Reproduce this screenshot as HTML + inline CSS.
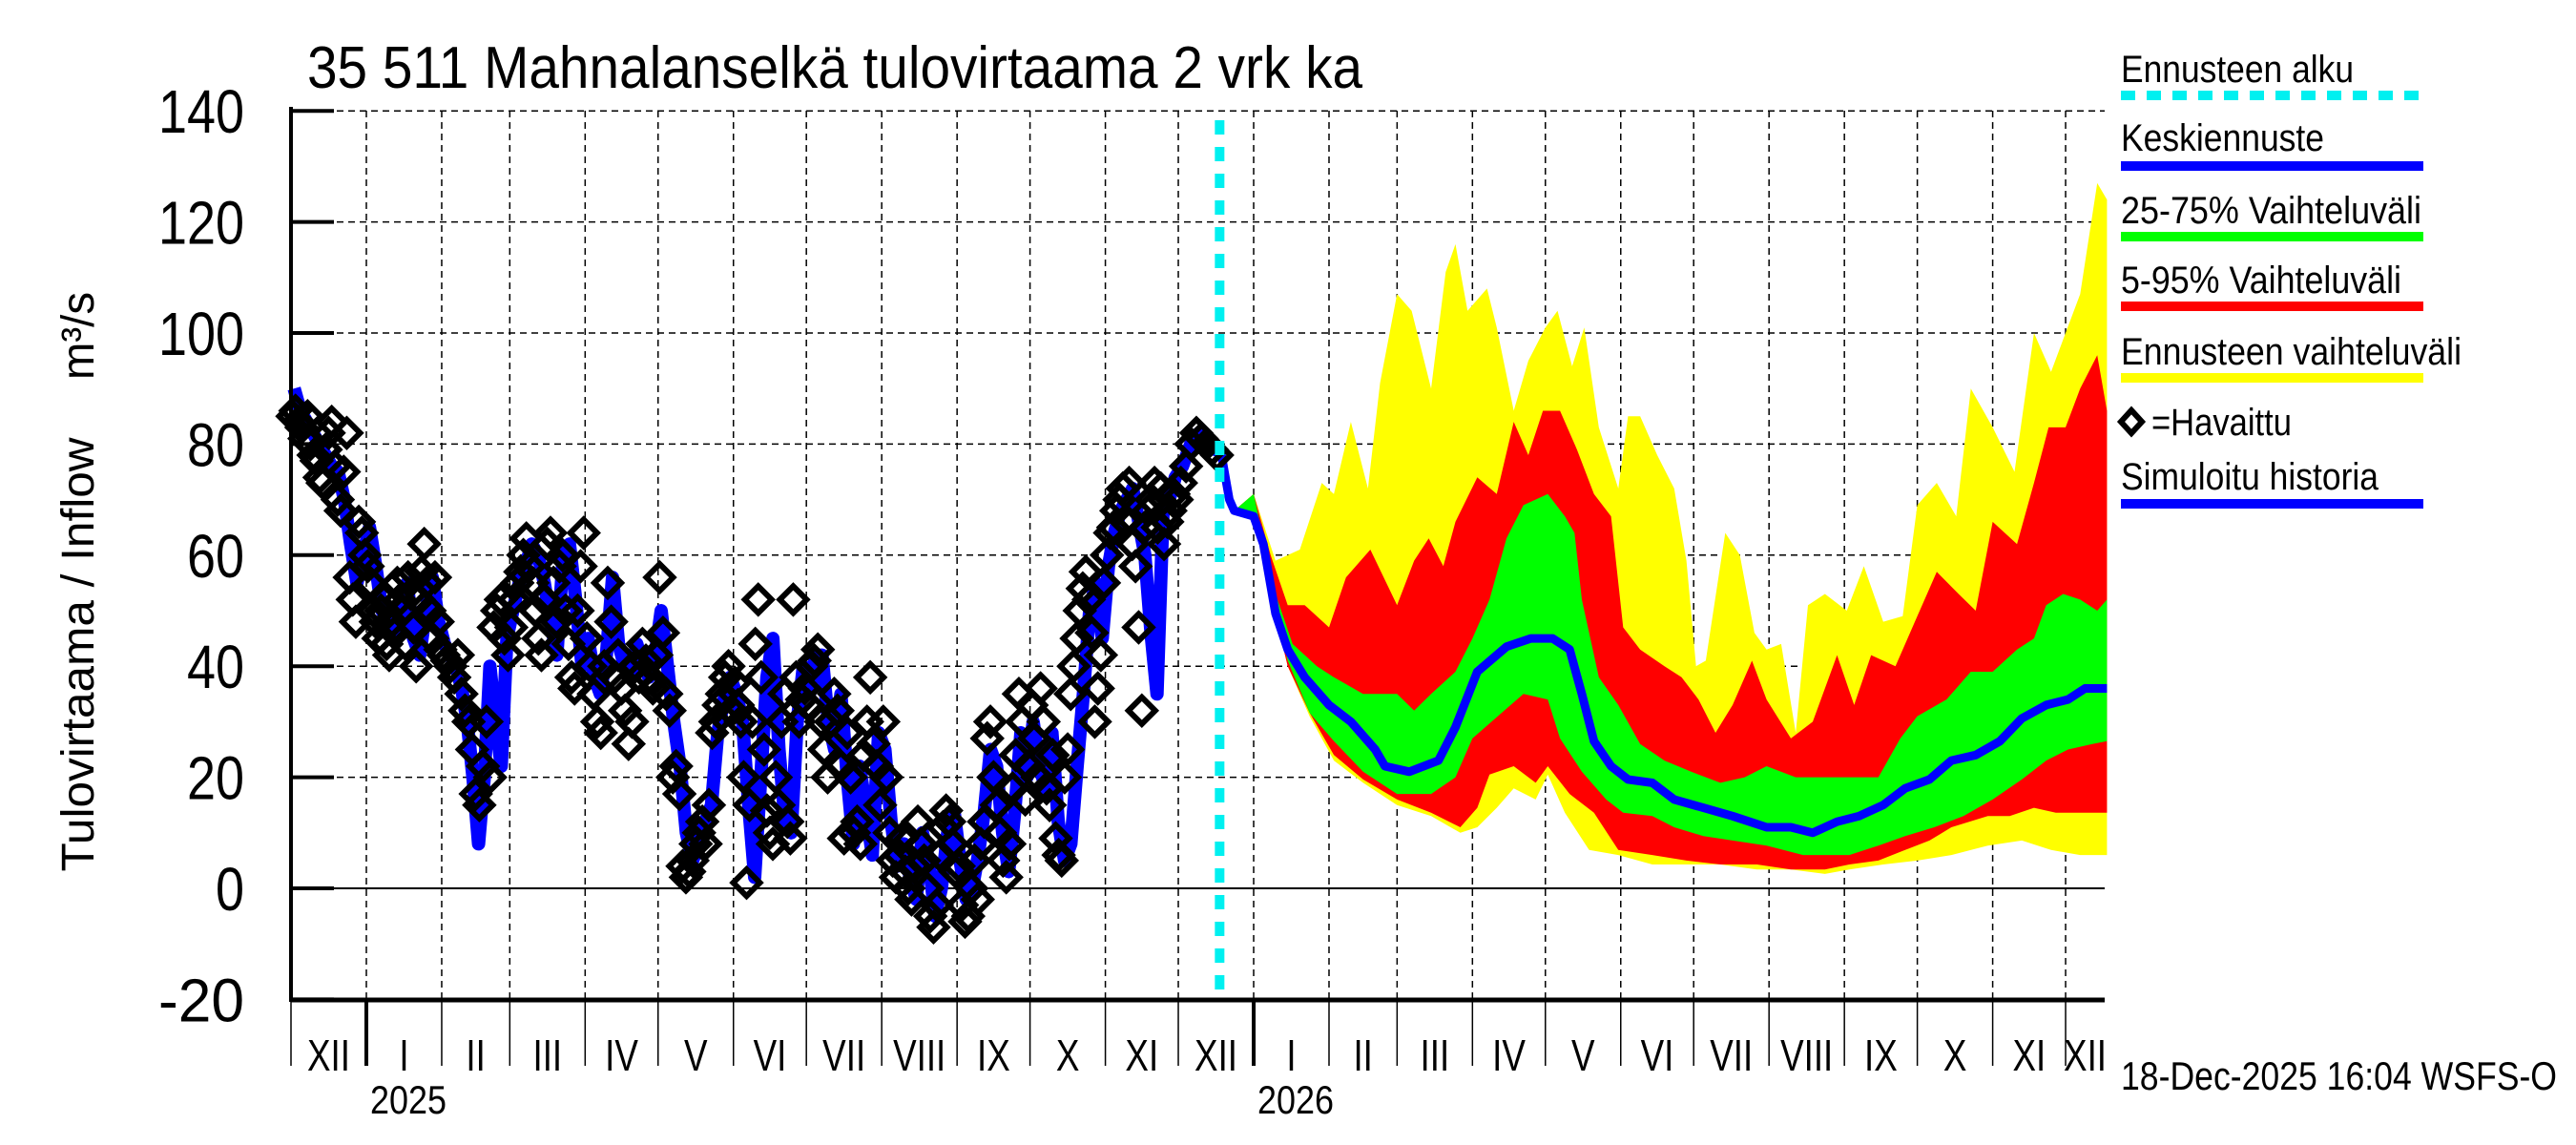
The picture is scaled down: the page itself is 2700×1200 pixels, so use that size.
<!DOCTYPE html>
<html><head><meta charset="utf-8"><style>
html,body{margin:0;padding:0;background:#fff;}
svg{display:block;font-family:"Liberation Sans",sans-serif;}
</style></head><body>
<svg id="chart" width="2700" height="1200" viewBox="0 0 2700 1200" xmlns="http://www.w3.org/2000/svg">
<text x="322" y="92" font-size="62" textLength="1106" lengthAdjust="spacingAndGlyphs">35 511 Mahnalanselkä tulovirtaama 2 vrk ka</text>
<g id="grid"></g>
<g id="bands"></g>
<g id="hist"></g>
<g id="axes"></g>
<text transform="translate(98,686) rotate(-90)" text-anchor="middle" font-size="48" textLength="455" lengthAdjust="spacingAndGlyphs">Tulovirtaama / Inflow</text>
<text transform="translate(98,352) rotate(-90)" text-anchor="middle" font-size="48" textLength="92" lengthAdjust="spacingAndGlyphs">m³/s</text>
<g id="legend">
 <text x="2223" y="86" font-size="40" textLength="244" lengthAdjust="spacingAndGlyphs">Ennusteen alku</text>
 <line x1="2223" y1="100" x2="2540" y2="100" stroke="#00f0f0" stroke-width="10" stroke-dasharray="15,12"/>
 <text x="2223" y="158" font-size="40" textLength="213" lengthAdjust="spacingAndGlyphs">Keskiennuste</text>
 <line x1="2223" y1="174" x2="2540" y2="174" stroke="#0000ff" stroke-width="10"/>
 <text x="2223" y="234" font-size="40" textLength="315" lengthAdjust="spacingAndGlyphs">25-75% Vaihteluväli</text>
 <line x1="2223" y1="248" x2="2540" y2="248" stroke="#00ff00" stroke-width="10"/>
 <text x="2223" y="307" font-size="40" textLength="294" lengthAdjust="spacingAndGlyphs">5-95% Vaihteluväli</text>
 <line x1="2223" y1="321" x2="2540" y2="321" stroke="#ff0000" stroke-width="10"/>
 <text x="2223" y="382" font-size="40" textLength="357" lengthAdjust="spacingAndGlyphs">Ennusteen vaihteluväli</text>
 <line x1="2223" y1="396" x2="2540" y2="396" stroke="#ffff00" stroke-width="10"/>
 <path d="M2223,442 L2234,430 L2245,442 L2234,454 Z" fill="none" stroke="#000" stroke-width="6"/>
 <text x="2255" y="456" font-size="40" textLength="147" lengthAdjust="spacingAndGlyphs">=Havaittu</text>
 <text x="2223" y="513" font-size="40" textLength="270" lengthAdjust="spacingAndGlyphs">Simuloitu historia</text>
 <line x1="2223" y1="528" x2="2540" y2="528" stroke="#0000ff" stroke-width="10"/>
</g>
<text x="2223" y="1142" font-size="42" textLength="457" lengthAdjust="spacingAndGlyphs">18-Dec-2025 16:04 WSFS-O</text>
</svg>
<script>
// ---- data ----
const yTicks = [-20,0,20,40,60,80,100,120,140];
const monthLabels = ["XII","I","II","III","IV","V","VI","VII","VIII","IX","X","XI","XII","I","II","III","IV","V","VI","VII","VIII","IX","X","XI","XII"];
const yearLabels = ["2025","2026"];
const forecastStartDay = 382;
// observed per month (Dec 2024 .. Dec 2025)
const obsDec24 = [85,86,84,83,81,85,80,78,77,74,73,79,82,84,76,70,68,75,82,56,52,48,66,64,60];
const obsJan25 = [58,55,50,48,45,50,52,44,42,48,46,55,52,50,44,56,53,47,40,52,57,62,55,50,45,56,48,43];
const obsFeb25 = [42,41,40,38,42,35,32,30,25,17,15,22,30,20,47,50,52,45,42];
const obsMar25 = [47,52,55,57,60,63,58,55,50,45,42,52,62,64,55,48,58,60,50,44,38,36,50,58,64];
const obsApr25 = [45,40,35,30,28,40,55,48,38,42,36,32,26,30,40,38,44,41,38,36,42];
const obsMay25 = [56,46,35,32,20,22,17,4,2,3,5,8,10,12,8,15,28,30,33,35,38,40,32];
const obsJun25 = [37,33,30,20,1,15,30,44,52,38,25,14,10,8,20,15,30,35,12,9,52,38,30,34,36];
const obsJul25 = [33,40,41,43,30,25,20,30,35,32,22,9,28,20,10,12,8,24,30,38,26,22,15];
const obsAug25 = [30,20,10,5,2,6,9,3,0,-2,4,12,8,5,0,-5,-7,-3,6,11,14,12,8,3];
const obsSep25 = [4,-3,-6,-5,0,5,-2,8,12,27,30,20,15,10,5,2,8,18,24,35,30,16,22];
const obsOct25 = [33,27,20,36,30,18,15,24,9,6,5,20,25,35,40,45,50,54,57,52,46,30,36,42,55];
const obsNov25 = [60,64,65,68,70,72,66,73,62,58,47,32,65,68,70,73,65,72,62,66,68,71,70];
const obsDec25 = [73,76,80,82,81,80,79,78];
// simulated history per month
const simDec24 = [90,86,84,82,80,78,76,75,70,62,55,60];
const simJan25 = [65,58,50,48,45,52,55,45,42,50,56,48];
const simFeb25 = [44,42,40,36,30,20,8,20,40,30,22,45];
const simMar25 = [50,55,58,62,60,55,48,42,60,62,52,40];
const simApr25 = [45,38,35,42,56,44,40,38,44,40,38,42];
const simMay25 = [50,40,30,22,10,5,8,12,15,28,34,38];
const simJun25 = [35,30,15,2,20,38,45,25,12,10,30,40];
const simJul25 = [35,42,42,30,25,35,20,8,22,14,6,28];
const simAug25 = [25,12,4,8,2,-2,10,5,-5,0,10,14];
const simSep25 = [5,-2,0,6,14,25,22,10,3,14,28,20];
const simOct25 = [30,22,18,28,12,5,8,22,35,50,55,45];
const simNov25 = [58,64,68,70,72,66,60,46,35,68,70,74];
const simDec25 = [76,80,82,80,79];
// forecast (day offsets from forecast start)
const maxDays = [6,14,23,33,42,47,54,61,66,73,79,87,93,97,102,110,114,121,127,134,139,145,150,156,164,168,173,180,187,192,196,200,208,214,220,225,231,237,242,249,258,265,273,281,287,295,303,309,318,327,335,342,348,354,361,365];
const maxVals = [68,71,59,61,73,71,84,72,91,107,104,90,111,116,104,108,101,86,95,101,104,94,101,83,72,85,85,78,72,59,40,41,64,60,46,43,44,28,51,53,50,58,48,49,69,73,67,90,83,75,100,93,100,107,127,124];
const p95Days = [6,14,21,28,35,45,52,62,73,80,86,92,97,106,114,121,127,133,140,147,154,161,166,173,183,190,197,204,211,219,225,235,244,254,261,268,278,287,295,304,311,318,328,335,341,348,354,361,365];
const p95Vals = [68,71,60,51,51,47,56,61,51,59,63,58,66,74,71,84,78,86,86,79,71,67,47,43,40,38,34,28,33,41,34,27,30,42,33,42,40,49,57,53,50,66,62,73,83,83,90,96,86];
const p75Days = [6,14,23,30,40,47,59,73,80,87,97,104,111,118,125,135,142,146,149,156,164,173,183,194,206,216,225,237,249,259,271,280,287,299,309,318,328,335,340,347,354,361,365];
const p75Vals = [68,71,53,44,40,38,35,35,32,35,39,45,52,63,69,71,67,64,52,38,33,26,23,21,19,20,22,20,20,20,20,27,31,34,39,39,43,45,51,53,52,50,52];
const medDays = [0,4,6,14,18,23,28,35,45,54,64,68,78,90,97,106,118,128,137,144,149,154,161,168,178,187,199,211,225,235,244,254,263,273,282,292,301,311,321,330,340,349,356,365];
const medVals = [80,70,68,67,62,49.5,43,38,33,30,25,22,21,23,29,39,43.5,45,45,43,35,26.5,22,19.6,19,16,14.5,13,11,11,10,12,13,15,18,19.6,23,24,26.5,30.6,33,34,36,36];
const p25Days = [6,14,23,28,37,47,59,73,87,97,104,116,125,135,140,149,159,166,178,187,199,211,225,240,249,259,271,282,294,306,318,330,340,349,359,365];
const p25Vals = [68,67,49,41,31.6,26.5,21,17,17,20,27,31.6,35,34,27,21,16,13.6,13,11,9.4,8.6,7.7,6,6,6,7.7,9.4,11,13,16,19.6,23,25,26,26.5];
const p5Days = [6,14,23,28,37,47,59,73,87,99,106,111,121,130,135,144,154,164,178,192,206,221,235,249,259,271,282,292,301,316,325,335,344,354,365];
const p5Vals = [68,67,49,40,31.6,24,19.6,16,13.6,11,14.5,20.5,22,19,22,17,13.6,6.9,6,5,4.3,4.3,3.4,3.4,4.3,5,6.9,8.6,11,13,13,14.5,13.6,13.6,13.6];
const minDays = [6,14,28,37,47,59,73,87,99,106,114,121,130,135,142,152,164,178,192,206,221,235,249,259,273,287,301,316,330,342,354,365];
const minVals = [68,67,40,31,23,19,15,13,10,11,14.5,18,16,20.5,13.6,6.9,6,4.3,4.3,4.3,3.4,3.4,2.6,3.4,4.3,5,6,7.7,8.6,6.9,6,6];

// ---- scales ----
const NS = "http://www.w3.org/2000/svg";
const X0 = 305, X1 = 2206, PXD = 2.548, Y0 = 931, PXV = 5.82, YTOP = 116, YBOT = 1048;
const t0 = Date.UTC(2024,11,1);
function xDay(d){ return X0 + d*PXD; }
function yVal(v){ return Y0 - v*PXV; }
function el(tag, attrs, parent){ const e=document.createElementNS(NS,tag); for(const k in attrs) e.setAttribute(k,attrs[k]); parent.appendChild(e); return e; }
function dayOf(y,m,d){ return (Date.UTC(y,m,d)-t0)/86400000; }

const grid = document.getElementById('grid'), axes = document.getElementById('axes');
const monthStarts = [];
for(let i=0;i<26;i++){ const y=2024+Math.floor((11+i)/12), m=(11+i)%12; monthStarts.push(dayOf(y,m,1)); }
for(let i=1;i<monthStarts.length;i++){
  const x = xDay(monthStarts[i]); if (x > X1) break;
  const g = el('line',{x1:x,y1:YTOP,x2:x,y2:YBOT,stroke:'#000','stroke-width':1.5,'stroke-dasharray':'7,5'},grid);
  
  
}
yTicks.forEach(v=>{
  const y=yVal(v);
  const g=el('line',{x1:X0,y1:y,x2:X1,y2:y,stroke:'#000','stroke-width':v===0?2:1.5,'stroke-dasharray':v===0?'none':'7,5'},grid);
  
  
  const tk=el('line',{x1:X0,y1:y,x2:X0+45,y2:y,stroke:'#000','stroke-width':4},axes);
  
  
  const s=String(v);
  const tl=el('text',{x:256,y:y+23,'font-size':64,'text-anchor':'end',textLength:s.length*30,lengthAdjust:'spacingAndGlyphs'},axes); tl.textContent=s;
  
  
});
el('line',{x1:X0,y1:YTOP-4,x2:X0,y2:YBOT+2,stroke:'#000','stroke-width':4},axes);
el('line',{x1:X0,y1:YBOT,x2:X1,y2:YBOT,stroke:'#000','stroke-width':5},axes);
for(let i=0;i<monthStarts.length-1;i++){
  const xa=xDay(monthStarts[i]); if(xa>X1) break;
  const xb=Math.min(xDay(monthStarts[i+1]),X1);
  const isJan = (i%12)===1;
  if(i>0){ const t=el('line',{x1:xa,y1:YBOT,x2:xa,y2:1117,stroke:'#000','stroke-width':isJan?4:1.5},axes);
    
     }
  const lb=el('text',{transform:`translate(${(xa+xb)/2},1122) scale(0.8,1)`,'font-size':46,'text-anchor':'middle'},axes); lb.textContent=monthLabels[i];
  
  
}
el('line',{x1:X0,y1:YBOT,x2:X0,y2:1117,stroke:'#000','stroke-width':1.5},axes);
[1,13].forEach((mi,k)=>{
  const yl=el('text',{x:xDay(monthStarts[mi])+4,y:1167,'font-size':42,textLength:80,lengthAdjust:'spacingAndGlyphs'},axes); yl.textContent=yearLabels[k];
  
  
});

// ---- forecast bands ----
const bands=document.getElementById('bands');
function bandPath(dA,vA,dB,vB){
  let p='';
  dA.forEach((d,i)=>{ p+=(i?'L':'M')+xDay(forecastStartDay+d).toFixed(1)+','+yVal(vA[i]).toFixed(1); });
  for(let i=dB.length-1;i>=0;i--) p+='L'+xDay(forecastStartDay+dB[i]).toFixed(1)+','+yVal(vB[i]).toFixed(1);
  return p+'Z';
}
const by=el('path',{d:bandPath(maxDays,maxVals,minDays,minVals),fill:'#ffff00'},bands);


const br=el('path',{d:bandPath(p95Days,p95Vals,p5Days,p5Vals),fill:'#ff0000'},bands);


const bg=el('path',{d:bandPath(p75Days,p75Vals,p25Days,p25Vals),fill:'#00ff00'},bands);


const medP = medDays.map((d,i)=>(i?'L':'M')+xDay(forecastStartDay+d).toFixed(1)+','+yVal(medVals[i]).toFixed(1)).join('');
const ml=el('path',{d:medP,fill:'none',stroke:'#0000ff','stroke-width':9,'stroke-linejoin':'round'},bands);



// ---- history ----
const hist=document.getElementById('hist');
const obsMonths=[obsDec24,obsJan25,obsFeb25,obsMar25,obsApr25,obsMay25,obsJun25,obsJul25,obsAug25,obsSep25,obsOct25,obsNov25,obsDec25];
const simMonths=[simDec24,simJan25,simFeb25,simMar25,simApr25,simMay25,simJun25,simJul25,simAug25,simSep25,simOct25,simNov25,simDec25];
function monthSpan(i){ const a=monthStarts[i]; const b = i===12 ? forecastStartDay : monthStarts[i+1]; return [a,b]; }
let simP='';
simMonths.forEach((arr,i)=>{ const [a,b]=monthSpan(i); arr.forEach((v,j)=>{ const d=a+(b-a)*(j+0.5)/arr.length; simP+=(simP?'L':'M')+xDay(d).toFixed(1)+','+yVal(v).toFixed(1); }); });
simP+='L'+xDay(forecastStartDay).toFixed(1)+','+yVal(medVals[0]).toFixed(1);
const sl=el('path',{d:simP,fill:'none',stroke:'#0000ff','stroke-width':14,'stroke-linejoin':'round'},hist);


obsMonths.forEach((arr,i)=>{ const [a,b]=monthSpan(i); arr.forEach((v,j)=>{
  const d=a+(b-a)*(j+0.5)/arr.length, x=xDay(d), y=yVal(v), r=14;
  const m=el('path',{d:`M${x-r},${y}L${x},${y-r}L${x+r},${y}L${x},${y+r}Z`,fill:'none',stroke:'#000','stroke-width':6},hist);
  
  
}); });
const fl=el('line',{x1:xDay(forecastStartDay),y1:126,x2:xDay(forecastStartDay),y2:YBOT,stroke:'#00f0f0','stroke-width':10,'stroke-dasharray':'15,13'},hist);


</script>
</body></html>
